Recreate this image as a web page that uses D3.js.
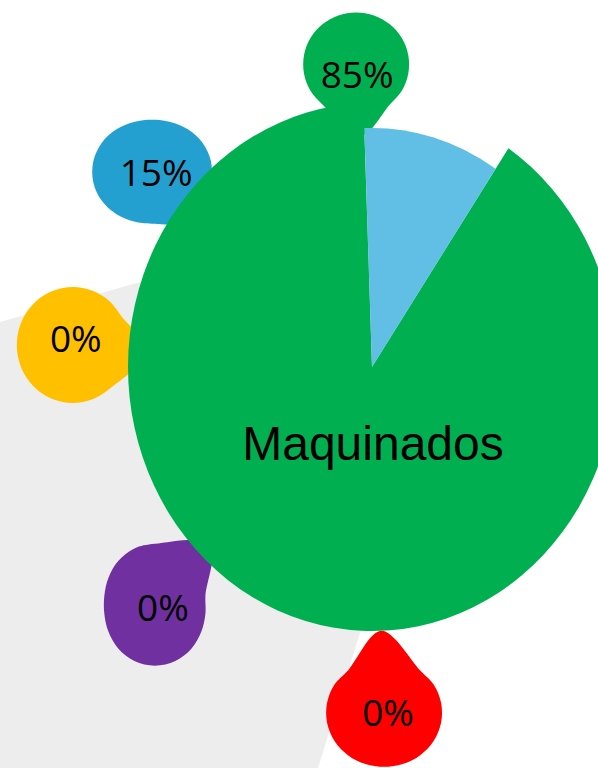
<!DOCTYPE html>
<html>
<head>
<meta charset="utf-8">
<script src="https://cdn.jsdelivr.net/npm/d3@7"></script>
<style>
  body{margin:0;background:#fff;}
  svg{display:block;}
</style>
</head>
<body>
<svg id="chart" width="598" height="768"></svg>
<script>
/* DATA */
let categories = ["Maquinados", "Otros"];
let sliceShares = [90, 10];          // wedge sizes as they are drawn
let sliceColors = ["#00B050", "#61BEE4"];
let labelValues = [85, 15, 0, 0, 0];
let labelColors = ["#00B050", "#24A0D0", "#FFC000", "#7030A0", "#FF0000"];

/* LAYOUT */
let width = 598, height = 768;
let cx = 372, cy = 367;
let pieR = 244, pieStretch = 1.082, wedgeR = 221;
let blobAngle = [-3, -48.4, -85.8, -137.6, 178];   // degrees, clockwise from top
let blobDist  = [303, 294, 300, 322, 346];
let blobRx    = [53, 60, 56, 51, 58];
let blobRy    = [52, 52, 58, 61, 54];
let blobTail  = [72, 72, 74, 82, 82];
let textShift = [[1, 10], [4, 1], [3, -6], [8, 3], [4, 0]];

let svg = d3.select('#chart');
let rad = d3.scaleLinear().domain([0, 360]).range([0, 2 * Math.PI]);

/* GRAY BACKDROP */
let topLine = d3.scaleLinear().domain([0, 140]).range([322, 282]);
let sideLine = d3.scaleLinear().domain([633, 768]).range([360, 318]);
// corner where the two edges meet
let corner = [501, topLine(501)];
svg.append('path')
  .attr('d', d3.line()([[0, topLine(0)], corner, [sideLine(height), height], [0, height]]))
  .attr('fill', '#EDEDED');

/* LABEL BLOBS */
function blobPath(i){
  let tail = rad(blobAngle[i] + 180);
  tail = ((tail % (2*Math.PI)) + 2*Math.PI) % (2*Math.PI);
  let pts = [];
  for (var k = 0; k < 18; k++){
    let t = k * 2 * Math.PI / 18;
    let diff = Math.abs(Math.atan2(Math.sin(t - tail), Math.cos(t - tail)));
    if (diff < 0.5) continue;
    let r = Math.sqrt(Math.pow(blobRx[i]*Math.sin(t), 2) + Math.pow(blobRy[i]*Math.cos(t), 2));
    pts.push([t, r]);
  }
  pts.push([tail, blobTail[i]]);
  pts.sort((a, b) => a[0] - b[0]);
  return d3.lineRadial().curve(d3.curveCatmullRomClosed.alpha(0.5))(pts);
}

let blobs = svg.selectAll('g.blob')
  .data(labelValues)
  .enter().append('g')
  .attr('class', 'blob')
  .attr('transform', (d, i) => {
    let a = rad(blobAngle[i]);
    return 'translate(' + (cx + blobDist[i]*Math.sin(a)) + ',' + (cy - blobDist[i]*Math.cos(a)) + ')';
  });

blobs.append('path')
  .attr('d', (d, i) => blobPath(i))
  .attr('fill', (d, i) => labelColors[i]);

/* PIE */
let pie = d3.pie().sort(null)
  .startAngle(rad(34))
  .endAngle(rad(34 + 360));
let arcs = pie(sliceShares);

let pieG = svg.append('g')
  .attr('transform', 'translate(' + cx + ',' + cy + ') scale(1,' + pieStretch + ')');

pieG.selectAll('path')
  .data(arcs)
  .enter().append('path')
  .attr('d', (d, i) => d3.arc().innerRadius(0).outerRadius(i == 0 ? pieR : wedgeR)(d))
  .attr('fill', (d, i) => sliceColors[i]);

/* TEXTS */
blobs.append('text')
  .attr('text-anchor', 'middle')
  .attr('x', (d, i) => textShift[i][0])
  .attr('y', (d, i) => textShift[i][1])
  .attr('dy', '0.36em')
  .style('font-family', '"Open Sans", sans-serif')
  .style('font-size', '37px')
  .style('fill', '#000')
  .text(d => d + '%');

svg.append('text')
  .attr('x', cx + 1)
  .attr('y', 460)
  .attr('text-anchor', 'middle')
  .style('font-family', '"Liberation Sans", Arial, sans-serif')
  .style('font-size', '48px')
  .style('fill', '#000')
  .text(categories[0]);
</script>
</body>
</html>
